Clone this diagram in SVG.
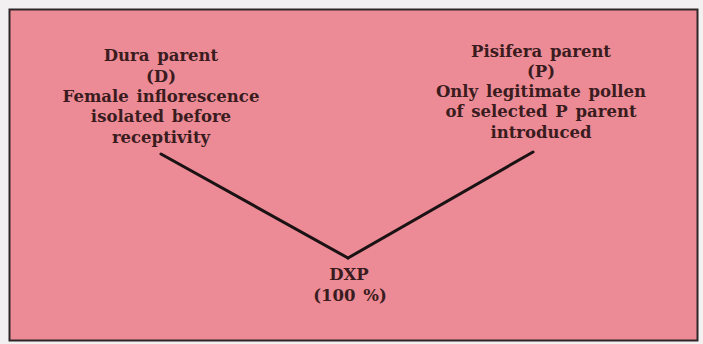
<svg xmlns="http://www.w3.org/2000/svg" width="703" height="344" viewBox="0 0 703 344">
  <style>
    .lbl { font-family: "DejaVu Serif", "Liberation Serif", serif; font-size: 16.5px; font-weight: bold; fill: #3a1c20; text-anchor: middle; word-spacing: 2px; }
    .edge { stroke: #1a1214; stroke-width: 3; fill: none; stroke-linecap: round; }
  </style>
  <rect x="0" y="0" width="703" height="344" fill="#f2f0f1"/>
  <rect id="frame" x="9.5" y="9.5" width="688" height="331" fill="#ec8b95" stroke="#2e2628" stroke-width="2"/>
  <g id="connectors">
    <line class="edge" x1="161" y1="154" x2="348" y2="258"/>
    <line class="edge" x1="533" y1="152" x2="348" y2="258"/>
  </g>
  <g id="dura">
    <text class="lbl" x="161" y="61">Dura parent</text>
    <text class="lbl" x="161" y="82">(D)</text>
    <text class="lbl" x="161" y="102">Female inflorescence</text>
    <text class="lbl" x="161" y="122">isolated before</text>
    <text class="lbl" x="161" y="143">receptivity</text>
  </g>
  <g id="pisifera">
    <text class="lbl" x="541" y="57">Pisifera parent</text>
    <text class="lbl" x="541" y="77">(P)</text>
    <text class="lbl" x="541" y="97">Only legitimate pollen</text>
    <text class="lbl" x="541" y="117">of selected P parent</text>
    <text class="lbl" x="541" y="138">introduced</text>
  </g>
  <g id="dxp">
    <text class="lbl" x="349" y="280">DXP</text>
    <text class="lbl" x="350" y="301">(100 %)</text>
  </g>
</svg>
